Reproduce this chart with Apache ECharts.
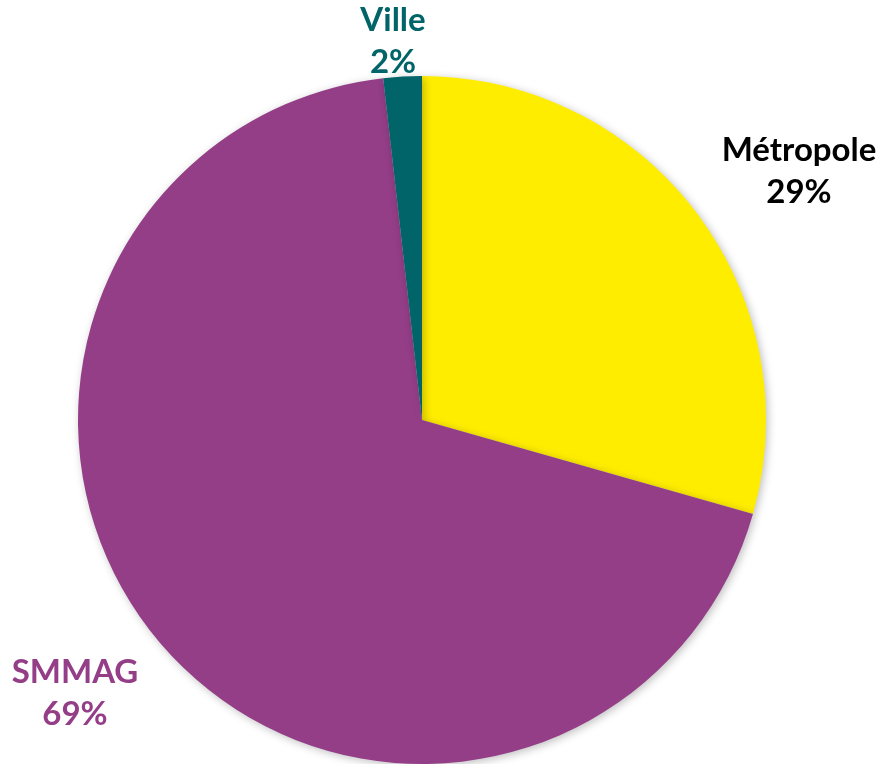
<!DOCTYPE html>
<html>
<head>
<meta charset="utf-8">
<script src="https://cdn.jsdelivr.net/npm/echarts@6/dist/echarts.min.js"></script>
<style>html,body{margin:0;padding:0;background:#fff}#c{width:880px;height:764px}</style>
</head>
<body>
<div id="c"></div>
<script>
const categories = ['Métropole', 'SMMAG', 'Ville'];
const values = [29.4, 68.8, 1.8];
const colors = ['#FFED00', '#943E88', '#006468'];
const labelColors = ['#000000', '#943E88', '#006468'];
const labelPos = [[799, 171], [75, 693], [393, 41]];

const chart = echarts.init(document.getElementById('c'));
chart.setOption({
  animation: false,
  series: [{
    type: 'pie',
    center: [422, 420],
    radius: [0, 344],
    startAngle: 90,
    clockwise: true,
    percentPrecision: 0,
    data: categories.map((n, i) => ({
      name: n, value: values[i],
      itemStyle: { color: colors[i] },
      label: { color: labelColors[i] }
    })),
    itemStyle: { borderWidth: 0, shadowBlur: 8, shadowOffsetX: 2, shadowOffsetY: 2, shadowColor: 'rgba(0,0,0,0.25)' },
    label: {
      show: true, position: 'outside',
      formatter: '{b}\n{d}%',
      fontFamily: 'Lato', fontWeight: 'bold', fontSize: 33, lineHeight: 42,
      align: 'center', overflow: 'none', width: 300
    },
    labelLine: { show: false },
    labelLayout: function (p) {
      const pos = labelPos[p.dataIndex];
      return { x: pos[0], y: pos[1], align: 'center', verticalAlign: 'middle' };
    }
  }]
});
</script>
</body>
</html>
